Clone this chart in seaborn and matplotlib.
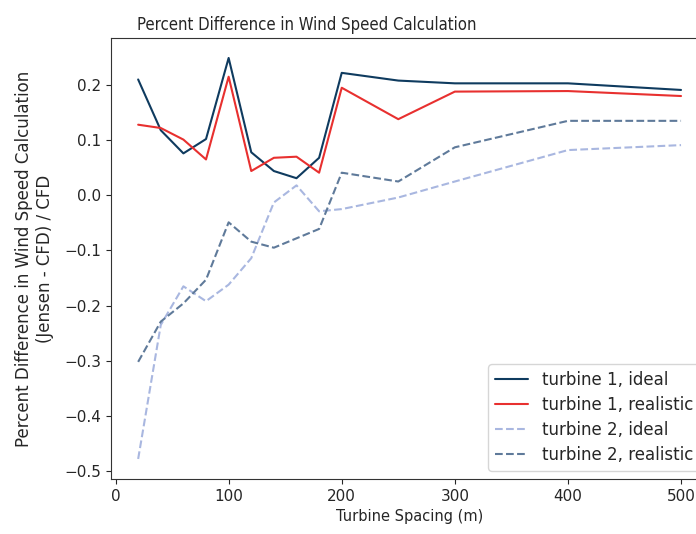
import numpy as np
import pandas as pd
import seaborn as sns
import matplotlib
matplotlib.use('Agg')
import matplotlib.pyplot as plt

# -----------------------------
# Data
# -----------------------------
spacing = [20, 40, 60, 80, 100, 120, 140, 160, 180, 200, 250, 300, 400, 500]

t1_ideal = [0.210, 0.118, 0.076, 0.102, 0.249, 0.078, 0.044, 0.031, 0.068,
            0.222, 0.208, 0.203, 0.203, 0.191]
t1_realistic = [0.128, 0.122, 0.101, 0.065, 0.215, 0.044, 0.068, 0.070, 0.041,
                0.195, 0.138, 0.188, 0.189, 0.180]
t2_ideal = [-0.478, -0.235, -0.165, -0.192, -0.162, -0.114, -0.013, 0.018, -0.029,
            -0.025, -0.004, 0.025, 0.082, 0.091]
t2_realistic = [-0.302, -0.229, -0.196, -0.153, -0.049, -0.084, -0.095, -0.078, -0.061,
                0.041, 0.025, 0.087, 0.135, 0.135]

labels = ['turbine 1, ideal', 'turbine 1, realistic', 'turbine 2, ideal', 'turbine 2, realistic']
colors = ['#0f3b5f', '#e8302f', '#a9b7e0', '#5f7a9a']
styles = ['-', '-', '--', '--']

# -----------------------------
# Plot
# -----------------------------
sns.set_style('ticks')
plt.rcParams['font.family'] = ['DejaVu Sans']

fig = plt.figure(figsize=(6.96, 5.34), dpi=100)
ax = fig.add_axes([0.1595, 0.103, 0.858, 0.826])

series = [t1_ideal, t1_realistic, t2_ideal, t2_realistic]
for vals, lab, col, ls in zip(series, labels, colors, styles):
    df = pd.DataFrame({'spacing': spacing, 'diff': vals})
    sns.lineplot(data=df, x='spacing', y='diff', ax=ax, color=col,
                 linestyle=ls, linewidth=1.5, label=lab)

ax.set_xticks([0, 100, 200, 300, 400, 500])
ax.set_yticks([-0.5, -0.4, -0.3, -0.2, -0.1, 0.0, 0.1, 0.2])
ax.set_xlabel('Turbine Spacing (m)', fontsize=10.5)
ax.set_ylabel('Percent Difference in Wind Speed Calculation\n(Jensen - CFD) / CFD', fontsize=12)
ax.yaxis.set_label_coords(-0.095, 0.5)
ax.set_title('Percent Difference in Wind Speed Calculation', fontsize=12,
             fontstretch='condensed', x=0.328)
ax.tick_params(labelsize=11)
for s in ax.spines.values():
    s.set_color('#333333')
ax.legend(loc='lower right', fontsize=12, frameon=True, labelspacing=0.42)

fig.savefig('out.png', dpi=100)
